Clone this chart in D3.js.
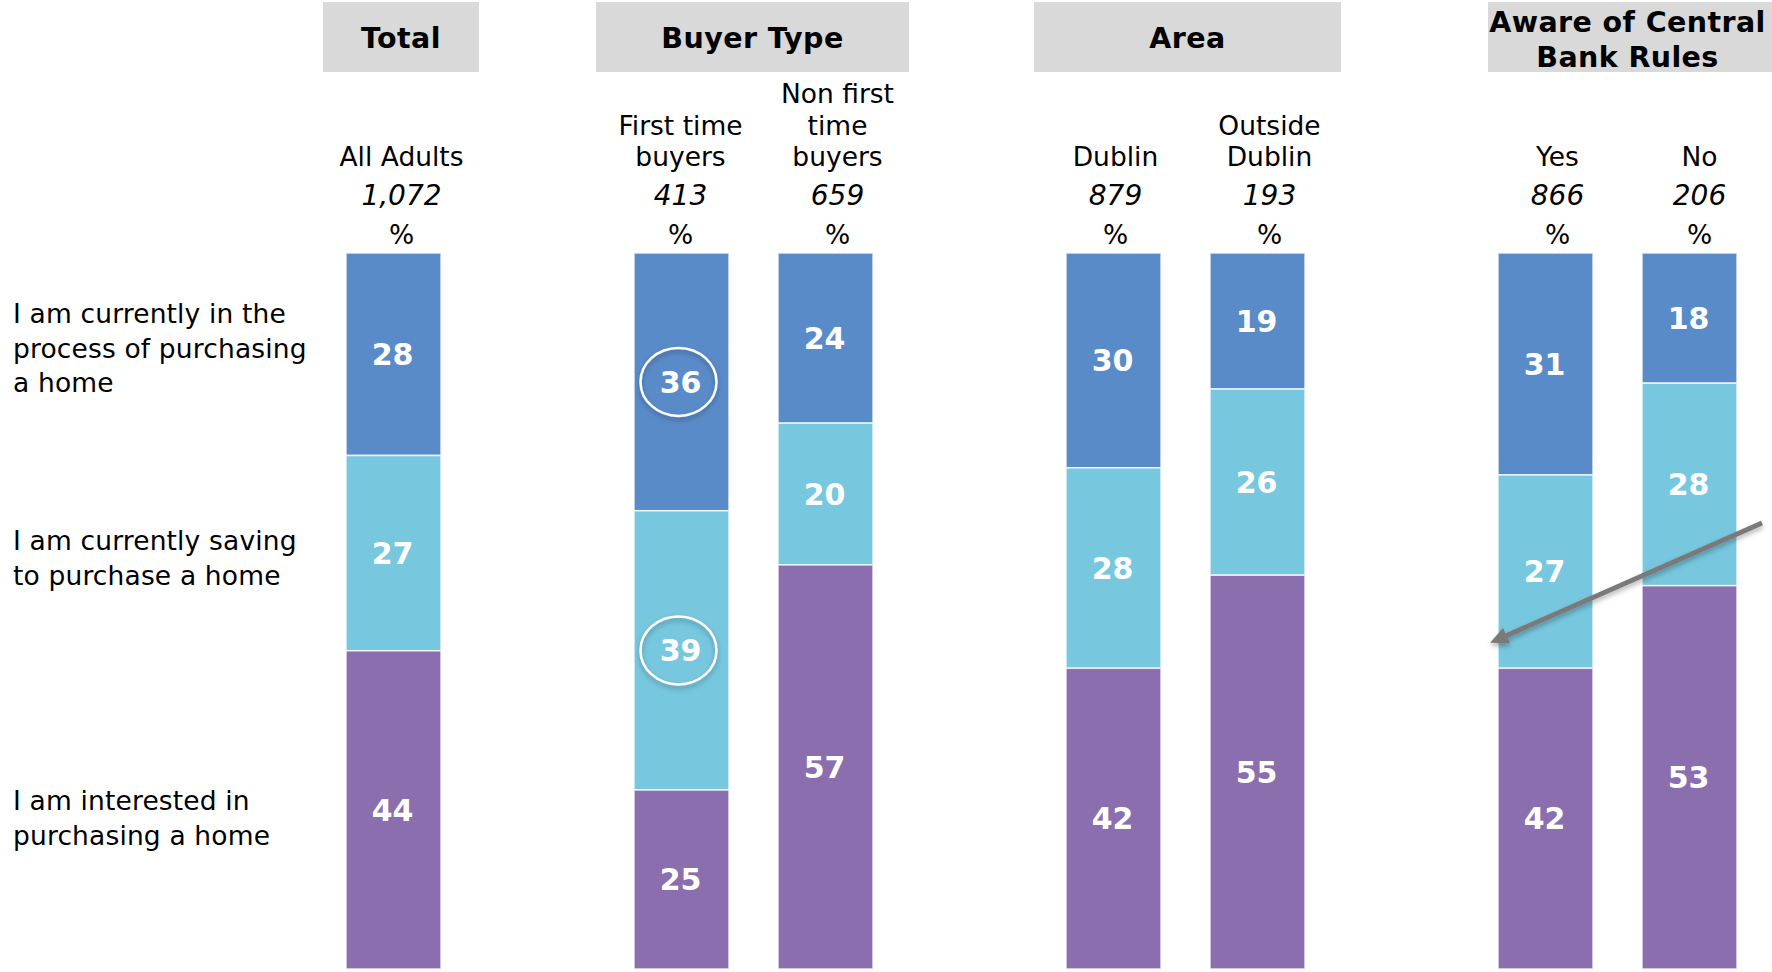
<!DOCTYPE html>
<html>
<head>
<meta charset="utf-8">
<script src="https://cdn.jsdelivr.net/npm/d3@7"></script>
<style>
  html, body { margin: 0; padding: 0; background: #fff; }
  svg { display: block; font-family: "DejaVu Sans", Verdana, sans-serif; }
</style>
</head>
<body>
<svg id="chart" width="1772" height="972"></svg>
<script>
// ---------------- DATA ----------------
const groups = ["Total", "Buyer Type", "Area", "Aware of Central Bank Rules"];
const groupLines = [["Total"], ["Buyer Type"], ["Area"], ["Aware of Central", "Bank Rules"]];
const columns = ["All Adults", "First time buyers", "Non first time buyers", "Dublin", "Outside Dublin", "Yes", "No"];
const columnLines = [["All Adults"], ["First time", "buyers"], ["Non first", "time", "buyers"], ["Dublin"], ["Outside", "Dublin"], ["Yes"], ["No"]];
const columnGroup = [0, 1, 1, 2, 2, 3, 3];
const bases = ["1,072", "413", "659", "879", "193", "866", "206"];
const seriesNames = ["purchasing", "saving", "interested"];
const seriesLabels = [
  ["I am currently in the", "process of purchasing", "a home"],
  ["I am currently saving", "to purchase a home"],
  ["I am interested in", "purchasing a home"]
];
const purchasing = [28, 36, 24, 30, 19, 31, 18];
const saving     = [27, 39, 20, 28, 26, 27, 28];
const interested = [44, 25, 57, 42, 55, 42, 53];
// highlighted cells: [column index, series index]
const highlighted = [[1, 0], [1, 1]];

// ---------------- LAYOUT ----------------
const colors = { purchasing: "#5A8BC9", saving: "#77C7DE", interested: "#8A6EAD" };
const barW = 95;
const barTop = 253, barBottom = 969;
const labelOffsets = [8, -1, 12, 2, 12, 12, 10];
const headerPadL = [23, 38, 32, 10];
const headerPadR = [38, 36, 36, 40];
const headerTextShift = [0, 0, 0, -5];
const rowLabelY = [323, 550, 810];

const svg = d3.select("#chart");

const defs = svg.append("defs");
const shadow = defs.append("filter").attr("id", "shadow")
  .attr("x", "-30%").attr("y", "-30%").attr("width", "160%").attr("height", "170%");
shadow.append("feDropShadow").attr("dx", 0).attr("dy", 3).attr("stdDeviation", 2.5)
  .attr("flood-color", "#000").attr("flood-opacity", 0.3);
defs.append("marker").attr("id", "arrowhead")
  .attr("viewBox", "0 0 10 10").attr("refX", 4).attr("refY", 5)
  .attr("markerWidth", 3.6).attr("markerHeight", 3.4)
  .attr("markerUnits", "strokeWidth")
  .attr("orient", "auto")
  .attr("preserveAspectRatio", "none")
  .append("path").attr("d", "M0,0 L10,5 L0,10 Z").attr("fill", "#7A7A7A");

// data table
const table = columns.map((c, i) => ({
  column: c, index: i,
  purchasing: purchasing[i], saving: saving[i], interested: interested[i]
}));

// x: slot index (column index + group index leaves a gap between groups)
const slot = columns.map((c, i) => i + columnGroup[i]);
const x = d3.scaleLinear().domain([0, 9]).range([346, 346 + 9 * 144]);
const y = d3.scaleLinear().domain([0, 1]).range([barTop, barBottom]);

const stack = d3.stack().keys(seriesNames).offset(d3.stackOffsetExpand);
const stacked = stack(table);

// header boxes
groups.forEach((g, gi) => {
  const cols = columns.map((c, i) => i).filter(i => columnGroup[i] === gi);
  const left = d3.min(cols, i => x(slot[i])) - headerPadL[gi];
  const right = d3.max(cols, i => x(slot[i]) + barW) + headerPadR[gi];
  svg.append("rect").attr("x", left).attr("y", 2).attr("width", right - left).attr("height", 70)
    .attr("fill", "#D9D9D9");
  const lines = groupLines[gi];
  const cx = (left + right) / 2 + headerTextShift[gi];
  const baselines = lines.length === 1 ? [48] : [32, 67];
  lines.forEach((l, li) => {
    svg.append("text").attr("x", cx).attr("y", baselines[li])
      .attr("text-anchor", "middle").attr("font-weight", "bold")
      .attr("font-size", 28.5).attr("letter-spacing", 0.4).attr("fill", "#000").text(l);
  });
});

// column labels
columns.forEach((c, i) => {
  const cx = x(slot[i]) + barW / 2 + labelOffsets[i];
  const lines = columnLines[i];
  lines.forEach((l, li) => {
    svg.append("text").attr("x", cx).attr("y", 166 - (lines.length - 1 - li) * 31.5)
      .attr("text-anchor", "middle").attr("font-size", 26.5).attr("fill", "#000").text(l);
  });
  svg.append("text").attr("x", cx).attr("y", 205)
    .attr("text-anchor", "middle").attr("font-size", 28).attr("font-style", "italic")
    .attr("fill", "#000").text(bases[i]);
  svg.append("text").attr("x", cx).attr("y", 244)
    .attr("text-anchor", "middle").attr("font-size", 26.5).attr("fill", "#000").text("%");
});

// row labels
seriesLabels.forEach((lines, si) => {
  lines.forEach((l, li) => {
    svg.append("text").attr("x", 13).attr("y", rowLabelY[si] + li * 34.5)
      .attr("font-size", 26.5).attr("letter-spacing", 0.15).attr("fill", "#000").text(l);
  });
});

// bars
const layers = svg.append("g").selectAll("g").data(stacked).join("g")
  .attr("fill", d => colors[d.key]);
layers.selectAll("rect").data(d => d.map(v => ({ v, key: d.key }))).join("rect")
  .attr("x", d => x(slot[d.v.data.index]))
  .attr("y", d => y(d.v[0]))
  .attr("width", barW)
  .attr("height", d => y(d.v[1]) - y(d.v[0]))
  .attr("stroke", "#fff").attr("stroke-opacity", 0.75).attr("stroke-width", 1.6);

// highlight ellipses
highlighted.forEach(([ci, si]) => {
  const seg = stacked[si][ci];
  const cx = x(slot[ci]) + barW / 2 - 3;
  const cy = (y(seg[0]) + y(seg[1])) / 2;
  svg.append("ellipse").attr("cx", cx).attr("cy", cy).attr("rx", 38).attr("ry", 34)
    .attr("fill", "none").attr("stroke", "#fff").attr("stroke-width", 2.5)
    .attr("filter", "url(#shadow)");
});

// value labels
stacked.forEach((layer, si) => {
  layer.forEach((seg, ci) => {
    const cx = x(slot[ci]) + barW / 2 - 1;
    const cy = (y(seg[0]) + y(seg[1])) / 2;
    svg.append("text").attr("x", cx).attr("y", cy).attr("dy", "0.36em")
      .attr("text-anchor", "middle").attr("font-size", 30).attr("font-weight", "bold")
      .attr("fill", "#fff").text(seg.data[seriesNames[si]]);
  });
});

// annotation arrow
const tipX = x(slot[5]) - 8;
svg.append("line")
  .attr("x1", 1762).attr("y1", 523).attr("x2", tipX + 10).attr("y2", 638.5)
  .attr("stroke", "#7A7A7A").attr("stroke-width", 5)
  .attr("marker-end", "url(#arrowhead)")
  .attr("filter", "url(#shadow)");
</script>
</body>
</html>
